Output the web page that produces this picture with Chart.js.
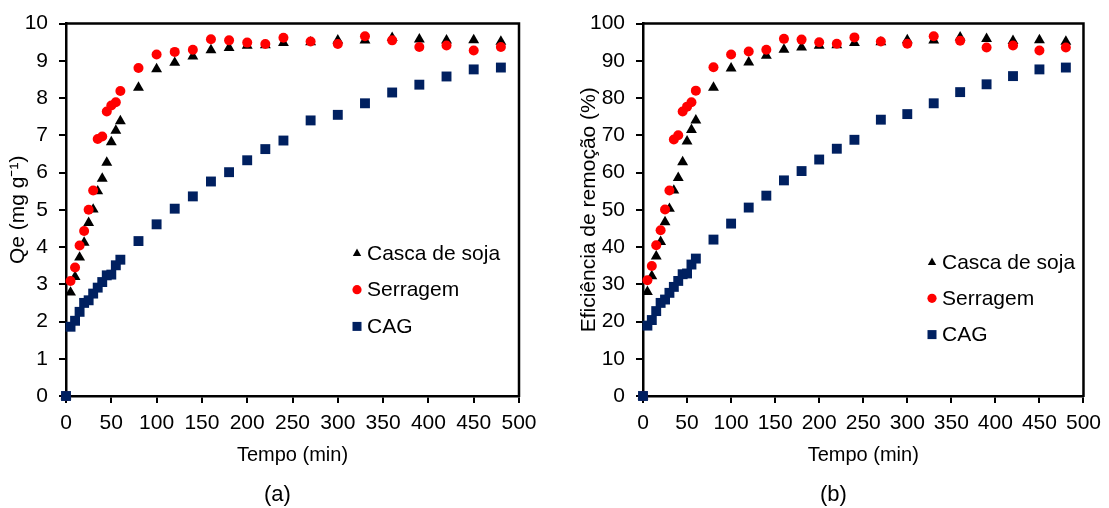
<!DOCTYPE html>
<html>
<head>
<meta charset="utf-8">
<script src="https://cdn.jsdelivr.net/npm/chart.js@4.4.1/dist/chart.umd.min.js"></script>
<style>
  body { margin: 0; background: #fff; width: 1109px; height: 508px; overflow: hidden; position: relative;
         font-family: "Liberation Sans", Arial, sans-serif; }
  .painel { position: absolute; top: 0; }
  .letra { position: absolute; top: 481px; font-size: 22px; color: #000; }
</style>
</head>
<body>
<div class="painel" style="left:0"><canvas id="grafA" width="555" height="508"></canvas></div>
<div class="painel" style="left:555px"><canvas id="grafB" width="554" height="508"></canvas></div>
<div class="letra" style="left:264px">(a)</div>
<div class="letra" style="left:820px">(b)</div>

<script>
// tempo de contato (min)
const tempo = [0, 5, 10, 15, 20, 25, 30, 35, 40, 45, 50, 55, 60, 80, 100, 120, 140, 160, 180, 200, 220, 240, 270, 300, 330, 360, 390, 420, 450, 480];

// (a) Qe (mg/g)
const qeSoja = [0, 2.78, 3.20, 3.72, 4.12, 4.65, 5.01, 5.50, 5.84, 6.27, 6.82, 7.13, 7.38, 8.28, 8.78, 8.95, 9.12, 9.29, 9.35, 9.41, 9.42, 9.48, 9.50, 9.55, 9.55, 9.62, 9.58, 9.55, 9.56, 9.52];
const qeSerragem = [0, 3.09, 3.45, 4.04, 4.43, 5.00, 5.52, 6.90, 6.97, 7.64, 7.80, 7.89, 8.19, 8.81, 9.17, 9.24, 9.30, 9.58, 9.55, 9.49, 9.45, 9.62, 9.52, 9.45, 9.66, 9.55, 9.37, 9.41, 9.28, 9.37];
const qeCAG = [0, 1.86, 2.02, 2.26, 2.50, 2.57, 2.75, 2.91, 3.06, 3.24, 3.26, 3.51, 3.66, 4.16, 4.61, 5.03, 5.36, 5.76, 6.01, 6.33, 6.63, 6.86, 7.40, 7.55, 7.86, 8.15, 8.36, 8.58, 8.77, 8.82];

// (b) eficiência de remoção (%)
const efSoja = [0, 28.0, 32.2, 37.5, 41.4, 46.7, 50.3, 55.2, 58.6, 62.8, 68.4, 71.5, 74.0, 82.8, 88.0, 89.6, 91.4, 93.0, 93.6, 94.1, 94.2, 94.8, 95.0, 95.6, 95.5, 96.3, 95.9, 95.4, 95.6, 95.2];
const efSerragem = [0, 31.1, 34.9, 40.5, 44.5, 50.1, 55.2, 68.9, 70.0, 76.4, 77.7, 78.9, 82.0, 88.3, 91.7, 92.5, 93.0, 95.9, 95.7, 95.0, 94.6, 96.3, 95.2, 94.6, 96.6, 95.4, 93.6, 94.1, 92.8, 93.6];
const efCAG = [0, 18.9, 20.4, 22.8, 25.0, 25.9, 27.7, 29.3, 30.9, 32.7, 32.9, 35.3, 36.9, 42.0, 46.3, 50.6, 53.8, 57.9, 60.4, 63.5, 66.4, 68.8, 74.2, 75.7, 78.6, 81.6, 83.7, 85.9, 87.7, 88.2];

const nomes = ["Casca de soja", "Serragem", "CAG"];
const fonte = "'Liberation Sans', Arial, sans-serif";

function pontos(valores) {
  return tempo.map((t, i) => ({ x: t, y: valores[i] }));
}

// borda superior e direita do gráfico
const moldura = {
  id: "moldura",
  afterDraw(chart) {
    const { ctx, chartArea: a } = chart;
    ctx.save();
    ctx.strokeStyle = "#000";
    ctx.lineWidth = 2.5;
    ctx.beginPath();
    ctx.moveTo(a.left - 1, a.top);
    ctx.lineTo(a.right, a.top);
    ctx.lineTo(a.right, a.bottom + 1);
    ctx.stroke();
    ctx.restore();
  }
};

// legenda dentro da área do gráfico
const legenda = {
  id: "legenda",
  afterDraw(chart, args, opts) {
    const { ctx, chartArea: a } = chart;
    const x = a.left + opts.dx;
    ctx.save();
    ctx.font = "21px " + fonte;
    ctx.textBaseline = "middle";
    chart.data.datasets.forEach((ds, i) => {
      const y = opts.y + i * opts.gap;
      ctx.fillStyle = ds.backgroundColor;
      ctx.beginPath();
      if (ds.pointStyle === "triangle") {
        ctx.moveTo(x, y - 4.5);
        ctx.lineTo(x + 4.2, y + 3);
        ctx.lineTo(x - 4.2, y + 3);
        ctx.closePath();
      } else if (ds.pointStyle === "circle") {
        ctx.arc(x, y, 4.6, 0, Math.PI * 2);
      } else {
        ctx.rect(x - 4.5, y - 4.5, 9, 9);
      }
      ctx.fill();
      ctx.fillStyle = "#000";
      ctx.fillText(ds.label, x + 10, y + 1);
    });
    ctx.restore();
  }
};

function criarGrafico(id, soja, serragem, cag, cfg) {
  new Chart(document.getElementById(id), {
    type: "scatter",
    data: {
      datasets: [
        { label: nomes[0], data: pontos(soja), pointStyle: "triangle", pointRadius: 6.3,
          backgroundColor: "#000000", borderWidth: 0, order: 2 },
        { label: nomes[1], data: pontos(serragem), pointStyle: "circle", pointRadius: 5,
          backgroundColor: "#ff0000", borderWidth: 0, order: 1 },
        { label: nomes[2], data: pontos(cag), pointStyle: "rect", pointRadius: 7,
          backgroundColor: "#002060", borderWidth: 0, order: 0 }
      ]
    },
    options: {
      responsive: false,
      animation: false,
      events: [],
      clip: false,
      layout: { padding: { top: 23, right: cfg.direita, left: 0, bottom: 0 } },
      plugins: {
        legend: { display: false },
        tooltip: { enabled: false },
        legenda: cfg.legenda
      },
      scales: {
        x: {
          type: "linear", min: 0, max: 500,
          afterFit: s => { s.height = 112; },
          ticks: { stepSize: 50, color: "#000", padding: 8, maxRotation: 0, font: { size: 21, family: fonte } },
          grid: { drawOnChartArea: false, tickLength: 7, color: "#000", lineWidth: 2 },
          border: { color: "#000", width: 2.5 },
          title: { display: true, text: "Tempo (min)", color: "#000",
                   font: { size: 20, family: fonte }, padding: { top: 0, bottom: 41 } }
        },
        y: {
          min: 0, max: cfg.ymax,
          afterFit: s => { s.width = cfg.largura; },
          ticks: { stepSize: cfg.passo, color: "#000", padding: 11, font: { size: 21, family: fonte } },
          grid: { drawOnChartArea: false, tickLength: 7, color: "#000", lineWidth: 2 },
          border: { color: "#000", width: 2.5 },
          title: { display: true, text: cfg.tituloY, color: "#000",
                   font: { size: 21, family: fonte }, padding: { top: cfg.tituloPad, bottom: 0 } }
        }
      }
    },
    plugins: [moldura, legenda]
  });
}

criarGrafico("grafA", qeSoja, qeSerragem, qeCAG, {
  ymax: 10, passo: 1, largura: 66, direita: 36, tituloPad: 6,
  tituloY: "Qe (mg g\u207B\u00B9)",
  legenda: { dx: 291, y: 253, gap: 36.7 }
});

criarGrafico("grafB", efSoja, efSerragem, efCAG, {
  ymax: 100, passo: 10, largura: 88, direita: 20, tituloPad: 22,
  tituloY: "Eficiência de remoção (%)",
  legenda: { dx: 289, y: 262, gap: 36.3 }
});
</script>
</body>
</html>
